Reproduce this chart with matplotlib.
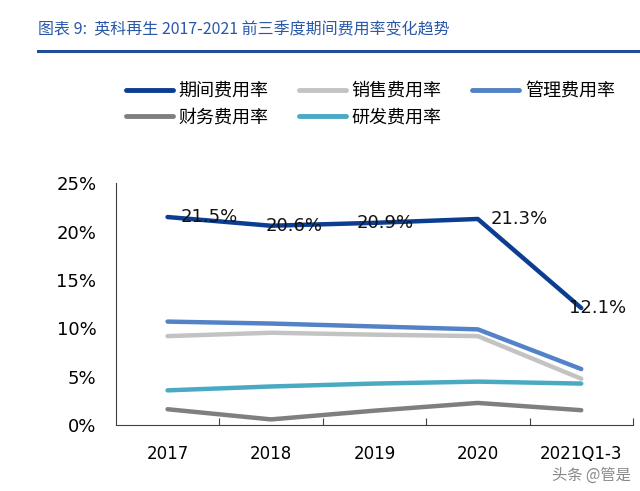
import matplotlib
matplotlib.use("Agg")
import matplotlib.pyplot as plt
from matplotlib.lines import Line2D

plt.rcParams['font.family'] = ['DejaVu Sans', 'Noto Sans CJK SC']

categories = ["2017", "2018", "2019", "2020", "2021Q1-3"]
qijian = [21.5, 20.6, 20.9, 21.3, 12.1]
xiaoshou = [9.2, 9.55, 9.35, 9.2, 4.8]
guanli = [10.7, 10.5, 10.2, 9.9, 5.8]
caiwu = [1.65, 0.6, 1.5, 2.3, 1.55]
yanfa = [3.6, 4.0, 4.3, 4.5, 4.3]
qijian_labels = ["21.5%", "20.6%", "20.9%", "21.3%", "12.1%"]
yticks = [0, 5, 10, 15, 20, 25]

series = [
    ("期间费用率", qijian, "#0b3d91"),
    ("销售费用率", xiaoshou, "#c3c3c3"),
    ("管理费用率", guanli, "#5382c6"),
    ("财务费用率", caiwu, "#7f7f7f"),
    ("研发费用率", yanfa, "#4aaac4"),
]

fig = plt.figure(figsize=(6.4, 4.91), dpi=100)
ax = fig.add_axes([0.181, 0.134, 0.808, 0.493])

x = list(range(len(categories)))
draw_order = [3, 4, 1, 2, 0]
for i in draw_order:
    name, vals, col = series[i]
    ax.plot(x, vals, color=col, lw=3.2, solid_capstyle='round', solid_joinstyle='round', zorder=3 + (i == 0))

ax.set_xlim(-0.5, len(categories) - 0.5)
ax.set_ylim(0, 25)
ax.set_yticks(yticks)
ax.set_yticklabels([f"{v}%" for v in yticks], fontsize=13)
ax.tick_params(axis='y', length=0, pad=14)
ax.set_xticks([i + 0.5 for i in range(len(categories) - 1)] + [len(categories) - 0.5], minor=False)
ax.set_xticklabels([])
ax.tick_params(axis='x', direction='in', length=5, color='#404040', width=0.8)
ax.set_xticks(x, minor=True)
ax.set_xticklabels(categories, minor=True, fontsize=12)
ax.tick_params(axis='x', which='minor', length=0, pad=14)

for s in ['top', 'right']:
    ax.spines[s].set_visible(False)
for s in ['left', 'bottom']:
    ax.spines[s].set_color('#404040')
    ax.spines[s].set_linewidth(0.8)

offsets = [(30, 0), (17, 0), (8, 0), (30, 0), (12, 0)]
for i, (lab, off) in enumerate(zip(qijian_labels, offsets)):
    ax.annotate(lab, (x[i], qijian[i]), xytext=off, textcoords='offset points',
                ha='center', va='center', fontsize=13, color='#111111', zorder=6)

# legend (column-major fill -> rows: 期间 销售 管理 / 财务 研发)
handles = [Line2D([0], [0], color=c, lw=3.5, solid_capstyle='round') for _, _, c in series]
labels = [n for n, _, _ in series]
order = [0, 3, 1, 4, 2]
leg = fig.legend([handles[i] for i in order], [labels[i] for i in order], ncol=3,
                 loc='upper left', bbox_to_anchor=(0.172, 0.866), frameon=False,
                 prop={'family': ['Noto Sans CJK SC'], 'size': 13},
                 handlelength=2.6, handletextpad=0.3, columnspacing=1.7, labelspacing=0.45)

# title
fig.text(0.06, 0.94, "图表 9:  英科再生 2017-2021 前三季度期间费用率变化趋势",
         fontsize=11.5, color='#2a58a8', style='italic',
         family=['Noto Sans CJK SC', 'DejaVu Sans'], va='center', ha='left')
fig.add_artist(Line2D([0.06, 1.0], [0.896, 0.896], color='#1f4e96', lw=2.2))

fig.text(0.985, 0.033, "头条 @管是", fontsize=11, color='#888888', ha='right', va='center',
         family=['Noto Sans CJK SC', 'DejaVu Sans'])

fig.savefig("out.png", dpi=100)
